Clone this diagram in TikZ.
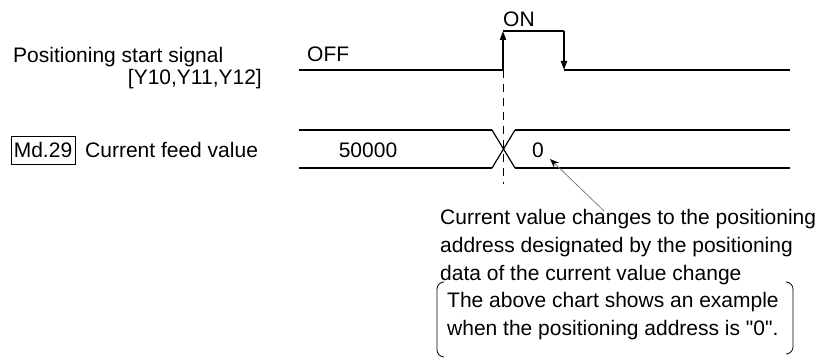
\documentclass[tikz,border=0pt]{standalone}
\usepackage{fontspec}
\setmainfont{Liberation Sans}[Ligatures=TeXOff]
\usetikzlibrary{arrows.meta}
\begin{document}
\begin{tikzpicture}[x=1pt,y=-1pt,
  txt/.style={inner sep=0pt,anchor=base west,font=\fontsize{21}{27}\selectfont},
  sig/.style={line width=2pt},
  thin/.style={line width=1.2pt},
  tip/.style={-{Triangle[length=9pt,width=6pt]}},
  lead/.style={draw=gray,line width=0.8pt,-{Stealth[length=9pt,width=7pt,black]}}]
\useasboundingbox (0,0) rectangle (824,363);
% labels
\node[txt] (pss) at (13,63) {Positioning start signal};
\node[txt,anchor=base east] (yy) at (262,85) {[Y10,Y11,Y12]};
\node[txt] (off) at (307,62) {OFF};
\node[txt] (on) at (503,27) {ON};
\node[txt,draw,line width=0.8pt,anchor=center,minimum width=64pt,minimum height=28pt] (md) at (43,150) {Md.29};
\node[txt] (cfv) at (85,158) {Current feed value};
\node[txt,anchor=base] (v1) at (368,158) {50000};
\node[txt] (v0) at (532,158) {0};
% signal
\coordinate (s0) at (299,70);
\coordinate (r0) at (503,70);
\coordinate (r1) at (503,31);
\coordinate (f0) at (564,31);
\coordinate (f1) at (564,70);
\coordinate (s1) at (790,70);
\draw[sig] (s0) -- (r0);
\draw[sig,tip] (r0) -- (r1);
\draw[sig] (r1) -- (f0);
\draw[sig,tip] (f0) -- (f1);
\draw[sig] (f1) -- (s1);
% dashed guide
\coordinate (d1) at (503,184);
\draw[line width=1pt,dash pattern=on 8pt off 6pt] (r0) -- (d1);
% bus
\coordinate (b0t) at (299,130);
\coordinate (b0b) at (299,168);
\coordinate (xlt) at (492,130);
\coordinate (xlb) at (492,168);
\coordinate (xrt) at (515,130);
\coordinate (xrb) at (515,168);
\coordinate (b1t) at (790,130);
\coordinate (b1b) at (790,168);
\draw[sig] (b0t) -- (xlt);
\draw[sig] (b0b) -- (xlb);
\draw[thin] (xlt) -- (xrb);
\draw[thin] (xlb) -- (xrt);
\draw[sig] (xrt) -- (b1t);
\draw[sig] (xrb) -- (b1b);
% leader
\coordinate (la) at (604,211);
\coordinate (lb) at (550,159);
\draw[lead] (la) -- (lb);
% note
\node[txt] (n1) at (440,225) {Current value changes to the positioning};
\node[txt] (n2) at (440,252.5) {address designated by the positioning};
\node[txt] (n3) at (440,280) {data of the current value change};
\node[txt] (n4) at (447,307.5) {The above chart shows an example};
\node[txt] (n5) at (447,335) {when the positioning address is "0".};
% brackets
\draw[line width=0.8pt,rounded corners=6pt] (444,282) -- (437,283) -- (437,356) -- (444,357);
\draw[line width=0.8pt,rounded corners=6pt] (786,282) -- (793,283) -- (793,353) -- (786,354);
\end{tikzpicture}
\end{document}
